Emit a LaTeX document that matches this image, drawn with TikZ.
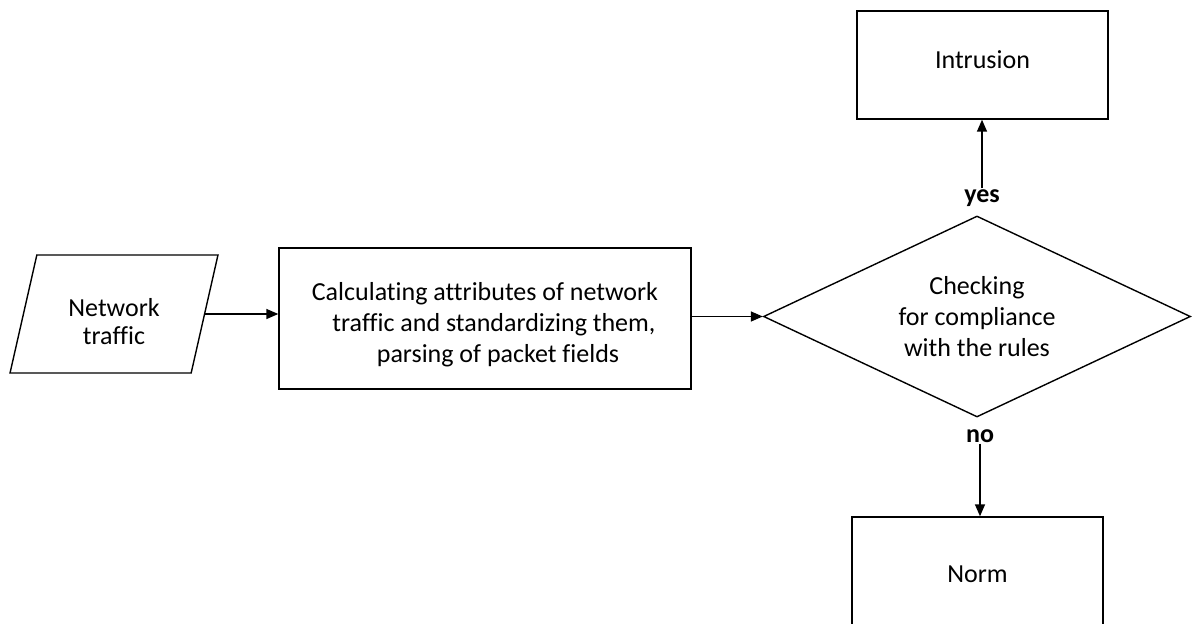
\documentclass[tikz,border=0pt]{standalone}
\usepackage{fontspec}
\setmainfont[Ligatures={NoCommon}]{Carlito}
\usetikzlibrary{shapes.geometric,arrows.meta}
\begin{document}
\begin{tikzpicture}[x=1pt,y=-1pt,
  every node/.style={font=\fontsize{26}{31}\selectfont},
  box/.style={draw,line width=1.4pt,rectangle,inner sep=0pt},
  flow/.style={line width=1.5pt,-{Triangle[length=12pt,width=10pt]}},
  lbl/.style={font=\fontsize{26}{31}\selectfont\bfseries,inner sep=1pt}]
\useasboundingbox (0,0) rectangle (1192,624);
\fill[white] (0,0) rectangle (1192,624);
\node[draw,line width=1.4pt,trapezium,trapezium left angle=75.7,trapezium right angle=104.3,
  trapezium stretches=true,minimum width=208pt,minimum height=118pt,inner sep=0pt,
  align=center,font=\fontsize{26}{28}\selectfont] (traffic) at (114,314) {\rule{0pt}{34pt}Network\\traffic};
\node[box,minimum width=412pt,minimum height=141pt,align=center] (calc) at (485,318.5)
  {\rule{0pt}{30pt}Calculating attributes of network\\\hspace*{18pt}traffic and standardizing them,\\\hspace*{26pt}parsing of packet fields};
\node[draw,line width=1.4pt,diamond,aspect=2.12,minimum width=427pt,minimum height=201pt,inner sep=0pt,align=center] (check) at (977,316.5)
  {Checking\\for compliance\\with the rules};
\node[box,minimum width=251pt,minimum height=108pt] (intr) at (982.5,65) {\raisebox{0pt}[18pt][11pt]{Intrusion}};
\node[box,minimum width=251pt,minimum height=114pt] (norm) at (977.5,574) {Norm};
\node[lbl] (yes) at (982,198) {yes};
\node[lbl] (no) at (980,436) {no};
\draw[flow] (traffic.east) -- (calc.west |- traffic.east);
\draw[flow] (calc.east |- check.west) -- (check.west);
\draw[flow] (yes.north) -- (yes.north |- intr.south);
\draw[flow] (no.south) -- (no.south |- norm.north);
\end{tikzpicture}
\end{document}
